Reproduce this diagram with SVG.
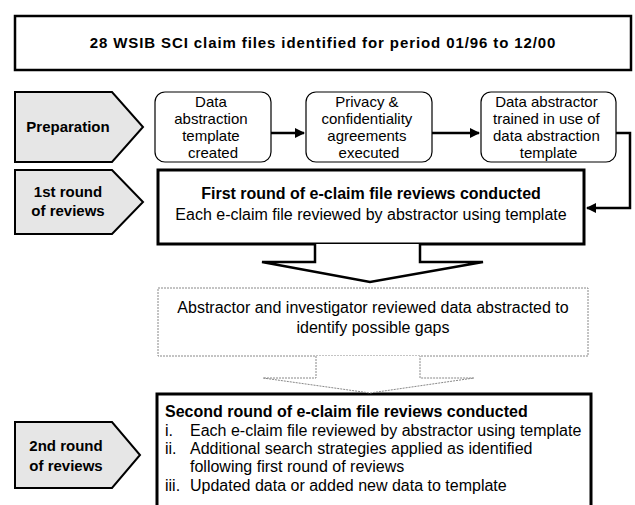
<svg xmlns="http://www.w3.org/2000/svg" width="635" height="505" viewBox="0 0 635 505">
  <defs>
    <style>
      text { font-family: "Liberation Sans", Arial, sans-serif; fill: #000; }
      .title { font-size: 15px; font-weight: bold; letter-spacing: 0.9px; }
      .tag { fill: #e6e6e6; stroke: #000; stroke-width: 2; }
      .tagtxt { font-size: 15px; font-weight: bold; }
      .step { fill: #fff; stroke: #000; stroke-width: 1.2; }
      .steptxt { font-size: 15px; }
      .heavy { fill: #fff; stroke: #000; stroke-width: 3; }
      .body { font-size: 16px; }
      .bold { font-weight: bold; }
      .dash { fill: #fff; stroke: #888; stroke-width: 1; stroke-dasharray: 2 1; }
      .conn { fill: none; stroke: #000; stroke-width: 2.5; }
    </style>
    <marker id="arrow" viewBox="0 0 10 10" refX="9" refY="5" markerWidth="4" markerHeight="4" orient="auto">
      <path d="M0,0 L10,5 L0,10 z" fill="#000"/>
    </marker>
  </defs>

  <!-- heading -->
  <g id="heading">
    <rect x="15" y="16" width="616" height="54" fill="#fff" stroke="#000" stroke-width="2.5"/>
    <text class="title" x="323" y="48" text-anchor="middle">28 WSIB SCI claim files identified for period 01/96 to 12/00</text>
  </g>

  <!-- phase tags -->
  <g id="tag-preparation">
    <polygon class="tag" points="15,92 112,92 143,127 112,162 15,162"/>
    <text class="tagtxt" x="68" y="132" text-anchor="middle">Preparation</text>
  </g>
  <g id="tag-round1">
    <polygon class="tag" points="15,170 112,170 143,202 112,234 15,234"/>
    <text class="tagtxt" x="68" y="197" text-anchor="middle">1st round</text>
    <text class="tagtxt" x="68" y="216" text-anchor="middle">of reviews</text>
  </g>
  <g id="tag-round2">
    <polygon class="tag" points="15,422 112,422 140,455 112,488 15,488"/>
    <text class="tagtxt" x="66" y="451" text-anchor="middle">2nd round</text>
    <text class="tagtxt" x="66" y="471" text-anchor="middle">of reviews</text>
  </g>

  <!-- preparation steps -->
  <g id="step-template">
    <rect class="step" x="155" y="92" width="116" height="70" rx="10"/>
    <text class="steptxt" text-anchor="middle">
      <tspan x="213" y="107">Data</tspan>
      <tspan x="213" y="124">abstraction</tspan>
      <tspan x="213" y="141">template</tspan>
      <tspan x="213" y="158">created</tspan>
    </text>
  </g>
  <g id="step-privacy">
    <rect class="step" x="306" y="92" width="126" height="70" rx="10"/>
    <text class="steptxt" text-anchor="middle">
      <tspan x="369" y="107">Privacy &amp;</tspan>
      <tspan x="369" y="124">confidentiality</tspan>
      <tspan x="369" y="141">agreements</tspan>
      <tspan x="369" y="158">executed</tspan>
    </text>
  </g>
  <g id="step-training">
    <rect class="step" x="481" y="92" width="135" height="70" rx="10"/>
    <text class="steptxt" text-anchor="middle">
      <tspan x="548.5" y="107">Data abstractor</tspan>
      <tspan x="548.5" y="124">trained in use of</tspan>
      <tspan x="548.5" y="141">data abstraction</tspan>
      <tspan x="548.5" y="158">template</tspan>
    </text>
  </g>

  <!-- first review round -->
  <g id="round1">
    <rect class="heavy" x="158" y="170" width="426" height="74"/>
    <text class="body bold" x="371" y="199" text-anchor="middle">First round of e-claim file reviews conducted</text>
    <text class="body" x="371" y="220" text-anchor="middle">Each e-claim file reviewed by abstractor using template</text>
  </g>

  <!-- gap review -->
  <g id="gap-review">
    <rect class="dash" x="158" y="288" width="430" height="68"/>
    <text class="body" x="373" y="313" text-anchor="middle">Abstractor and investigator reviewed data abstracted to</text>
    <text class="body" x="373" y="333" text-anchor="middle">identify possible gaps</text>
  </g>

  <!-- second review round -->
  <g id="round2">
    <rect class="heavy" x="157" y="394" width="434" height="130"/>
    <text class="body bold" x="165" y="417">Second round of e-claim file reviews conducted</text>
    <text class="body"><tspan x="165" y="436">i.</tspan><tspan x="190" y="436">Each e-claim file reviewed by abstractor using template</tspan></text>
    <text class="body"><tspan x="165" y="454">ii.</tspan><tspan x="190" y="454">Additional search strategies applied as identified</tspan></text>
    <text class="body"><tspan x="190" y="472">following first round of reviews</tspan></text>
    <text class="body"><tspan x="165" y="491">iii.</tspan><tspan x="190" y="491">Updated data or added new data to template</tspan></text>
  </g>

  <!-- connectors -->
  <g id="connectors">
    <line class="conn" x1="271" y1="133" x2="304" y2="133" marker-end="url(#arrow)"/>
    <line class="conn" x1="432" y1="133" x2="479" y2="133" marker-end="url(#arrow)"/>
    <polyline class="conn" points="616,133 630,133 630,208 587,208" marker-end="url(#arrow)"/>
    <!-- block arrow between rounds -->
    <path d="M315,244 L315,262 L262,262 L370,282 L483,262 L420,262 L420,244" fill="#fff" stroke="#000" stroke-width="2.5" stroke-linejoin="miter"/>
    <!-- dashed block arrow -->
    <path d="M316,356 L316,378 L263,378 L370,393 L474,378 L420,378 L420,356" fill="#fff" stroke="#888" stroke-width="1" stroke-dasharray="2 1"/>
  </g>
</svg>
